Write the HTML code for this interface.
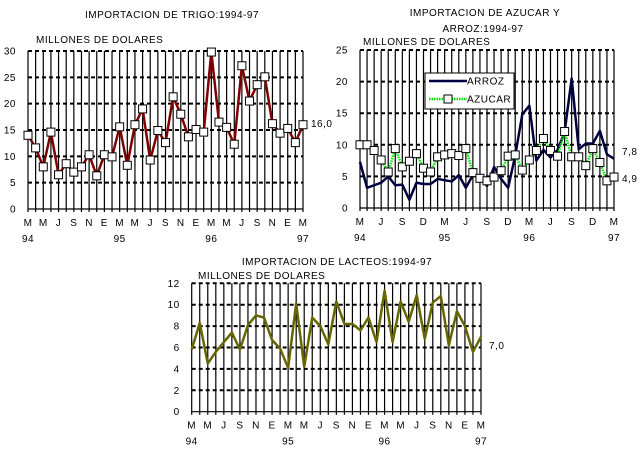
<!DOCTYPE html>
<html><head><meta charset="utf-8"><style>
html,body{margin:0;padding:0;background:#fff;}
svg{display:block;font-family:"Liberation Sans",sans-serif;font-size:10px;letter-spacing:0.5px;}
</style></head><body>
<svg id="s" width="640" height="454" xmlns="http://www.w3.org/2000/svg"></svg>
<script>
const s=document.getElementById('s');let h='';
function chart(o){
 const {x0,x1,y0,yT,max,step,vals}=o;
 const dx=(x1-x0)/36, sy=(y0-yT)/max;
 for(let i=0;i<=36;i++){const x=x0+i*dx;h+=`<line x1="${x}" y1="${yT}" x2="${x}" y2="${y0+3}" stroke="#000" stroke-width="1.2"/>`;}
 for(let v=0;v<=max;v+=step){const y=y0-v*sy;
  if(v>0)h+=`<line x1="${x0}" y1="${y}" x2="${x1}" y2="${y}" stroke="#000" stroke-width="2" stroke-dasharray="4,3"/>`;
  h+=`<text x="${x0-12}" y="${y+3.5}" text-anchor="end">${v}</text>`;}
 h+=`<line x1="${x0}" y1="${y0}" x2="${x1}" y2="${y0}" stroke="#000" stroke-width="1.2"/>`;
 o.labs.forEach((l,i)=>{h+=`<text x="${x0+i*o.every*dx}" y="${y0+17}" text-anchor="middle">${l}</text>`;});
 [['94',0],['95',12],['96',24],['97',36]].forEach(([t,m])=>{h+=`<text x="${x0+m*dx}" y="${y0+33}" text-anchor="middle">${t}</text>`;});
 vals.forEach(([arr,col,w,dash,mark])=>{
  const pts=arr.map((v,i)=>`${x0+i*dx},${y0-v*sy}`).join(' ');
  h+=`<polyline points="${pts}" fill="none" stroke="${col}" stroke-width="${w}" ${dash?'stroke-dasharray="1.5,1"':''} stroke-linejoin="round"/>`;
  if(mark)arr.forEach((v,i)=>{h+=`<rect x="${x0+i*dx-4}" y="${y0-v*sy-4}" width="8" height="8" fill="#fff" stroke="#000" stroke-width="1"/>`;});
 });
}
const L2=['M','M','J','S','N','E','M','M','J','S','N','E','M','M','J','S','N','E','M'];
chart({x0:28,x1:303,y0:209,yT:51,max:30,step:5,every:2,labs:L2,vals:[[[14,11.6,8,14.6,6.5,8.6,7,8,10.3,6.3,10.3,9.9,15.6,8.3,16,19,9.3,14.9,12.6,21.3,18,13.7,15.1,14.6,29.8,16.5,15.5,12.3,27.2,20.5,23.6,25.1,16.2,14.4,15.3,12.6,16],'#800000',2.5,false,true]]});
chart({x0:360,x1:614,y0:208,yT:50,max:25,step:5,every:3,labs:['M','J','S','D','M','J','S','D','M','J','S','D','M'],vals:[
 [[7.3,3.2,3.6,4,5,3.6,3.7,1.3,4,3.8,3.8,4.6,4.4,4.2,5.2,3.2,5.2,4.8,3.5,6.5,4.6,3.2,8.3,14.8,16.2,7.5,9.2,8,9.2,12,20.5,9.3,10.2,10.2,12.2,8.5,7.8],'#000040',2.5,false,false],
 [[10,10,9.1,7.6,5.7,9.4,6.5,7.4,8.6,6.3,5.7,8.1,8.4,8.6,8.3,9.4,5.6,4.7,4.3,4.9,5.9,8.2,8.4,6,7.6,9.1,11,9.1,8.2,12.1,8.1,8.1,6.7,9.4,7.2,4.3,4.9],'#00e000',2.5,true,true]]});
chart({x0:191.7,x1:481,y0:411.7,yT:283.3,max:12,step:2,every:2,labs:L2,vals:[[[5.8,8.3,4.5,5.6,6.5,7.4,5.8,8.1,9,8.8,6.7,5.9,4.1,10.1,4.2,8.8,8,6.3,10.3,8.2,8.2,7.6,8.8,6.5,11.3,6.5,10.3,8.4,10.9,6.8,10.2,10.8,6.2,9.4,8,5.6,7],'#666600',2.5,false,false]]});
h+=`<rect x="425" y="73" width="89" height="36" fill="#fff" stroke="#000" stroke-width="1"/>
<line x1="429" y1="81" x2="467" y2="81" stroke="#000040" stroke-width="2.5"/><text x="467" y="84.5">ARROZ</text>
<line x1="429" y1="99" x2="467" y2="99" stroke="#00e000" stroke-width="2.5" stroke-dasharray="1.5,1"/><rect x="444" y="95" width="8" height="8" fill="#fff" stroke="#000"/><text x="467" y="102.5">AZUCAR</text>`;
h+=`<text x="172" y="18" text-anchor="middle">IMPORTACION DE TRIGO:1994-97</text>
<text x="36" y="43">MILLONES DE DOLARES</text>
<text x="311" y="127">16,0</text>
<text x="485" y="16" text-anchor="middle">IMPORTACION DE AZUCAR Y</text>
<text x="483" y="32" text-anchor="middle">ARROZ:1994-97</text>
<text x="363" y="45">MILLONES DE DOLARES</text>
<text x="622" y="155">7,8</text>
<text x="622" y="182">4,9</text>
<text x="337" y="265" text-anchor="middle">IMPORTACION DE LACTEOS:1994-97</text>
<text x="198" y="279">MILLONES DE DOLARES</text>
<text x="489" y="349">7,0</text>`;
s.innerHTML=h;
</script>
</body></html>
